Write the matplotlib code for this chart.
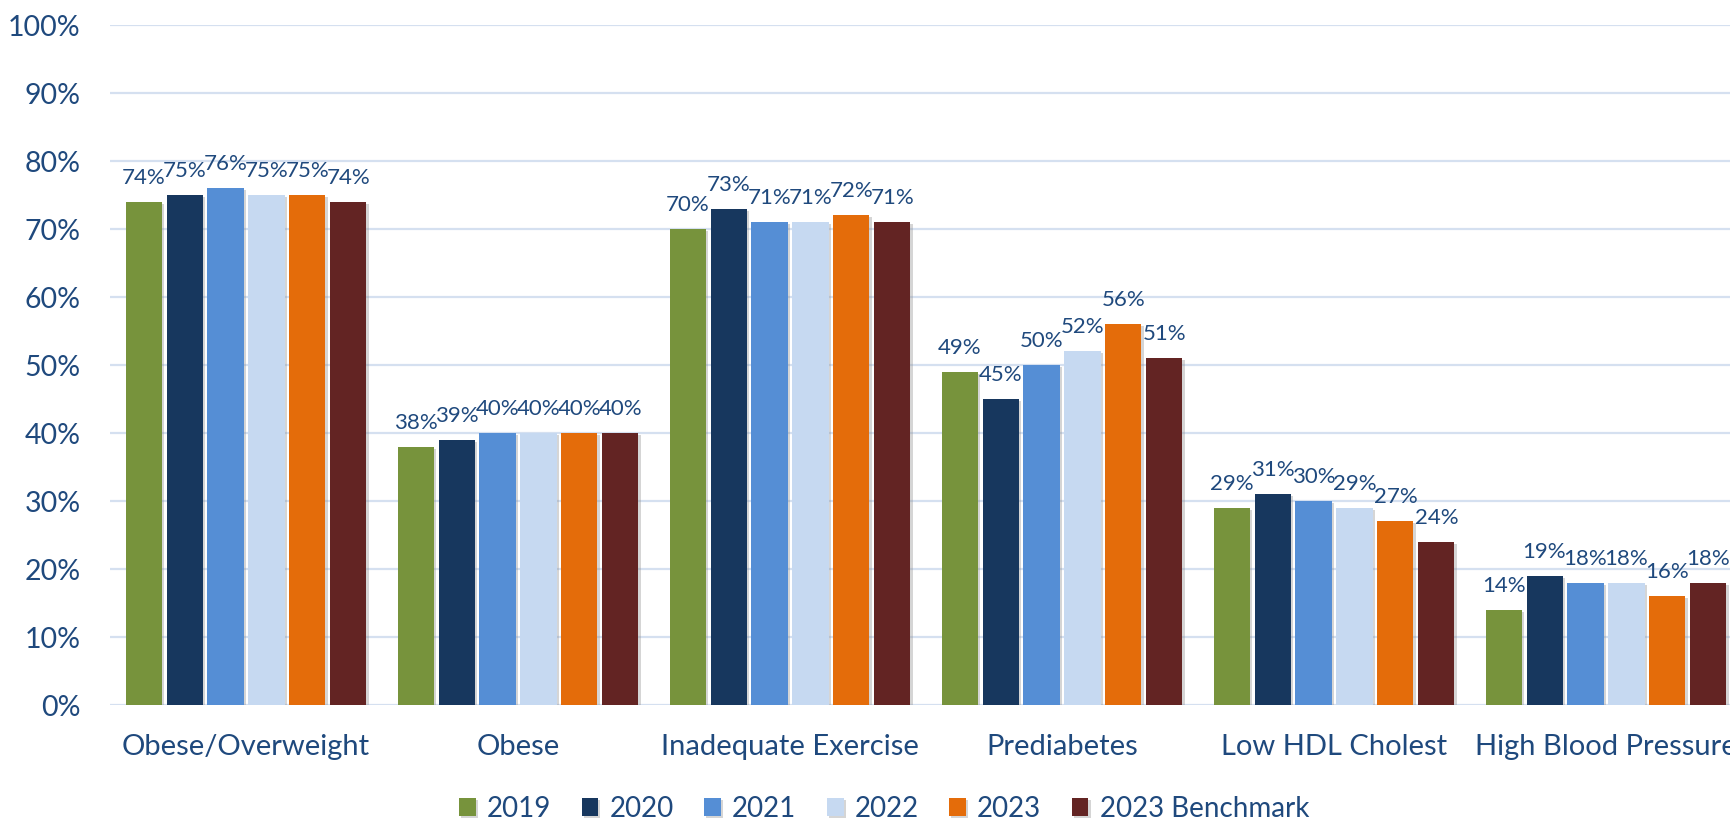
import matplotlib
matplotlib.use("Agg")
import matplotlib.pyplot as plt
import matplotlib.patheffects as pe
import numpy as np

categories = ["Obese/Overweight", "Obese", "Inadequate Exercise", "Prediabetes",
              "Low HDL Cholest", "High Blood Pressure"]
series_names = ["2019", "2020", "2021", "2022", "2023", "2023 Benchmark"]
v2019 = [74, 38, 70, 49, 29, 14]
v2020 = [75, 39, 73, 45, 31, 19]
v2021 = [76, 40, 71, 50, 30, 18]
v2022 = [75, 40, 71, 52, 29, 18]
v2023 = [75, 40, 72, 56, 27, 16]
vbench = [74, 40, 71, 51, 24, 18]
yticks = [0, 10, 20, 30, 40, 50, 60, 70, 80, 90, 100]

values = [v2019, v2020, v2021, v2022, v2023, vbench]
colors = ["#77933C", "#17375E", "#558ED5", "#C6D9F1", "#E46C0A", "#632423"]
txt = "#1F497D"
font = ["Lato", "DejaVu Sans"]
plt.rcParams["font.family"] = font

W, H = 1730, 822
fig = plt.figure(figsize=(W / 100, H / 100), dpi=100)
ax = fig.add_axes([110 / W, 117 / H, 1632 / W, 680 / H])

x = np.arange(len(categories))
pitch = 0.1507
bw = 0.1324
shadow = [pe.SimplePatchShadow(offset=(1.5, -1.5), shadow_rgbFace="#888888", alpha=0.35), pe.Normal()]
for i, (name, vals, c) in enumerate(zip(series_names, values, colors)):
    xs = x + (i - 2.5) * pitch
    frac = [v / 100 for v in vals]
    bars = ax.bar(xs, frac, width=bw, color=c, label=name, zorder=3)
    for b in bars:
        b.set_path_effects(shadow)
    for xi, v in zip(xs, vals):
        ax.annotate(f"{v}%", (xi, v / 100), xytext=(0, 13), textcoords="offset points",
                    ha="center", va="baseline", fontsize=16, color=txt, zorder=4)

ax.set_xlim(-0.5, len(categories) - 0.5)
ax.set_ylim(0, 1.0)
ax.set_yticks([t / 100 for t in yticks])
ax.set_yticklabels([f"{t}%" for t in yticks])
ax.set_xticks(x)
ax.set_xticklabels(categories)
ax.tick_params(axis="y", length=0, pad=21, labelsize=20.5, labelcolor=txt)
ax.tick_params(axis="x", length=0, pad=21, labelsize=21, labelcolor=txt)
for s in ax.spines.values():
    s.set_visible(False)
ax.yaxis.grid(True, color="#D5E0F0", linewidth=1.6, zorder=0)
ax.set_axisbelow(True)

fig.legend(loc="center", bbox_to_anchor=(884 / W, 1 - 809 / H), ncol=6, frameon=False,
           fontsize=20, handlelength=0.6, handleheight=0.6, handletextpad=0.4,
           columnspacing=1.1, labelcolor=txt)

fig.savefig("out.png", dpi=100)
